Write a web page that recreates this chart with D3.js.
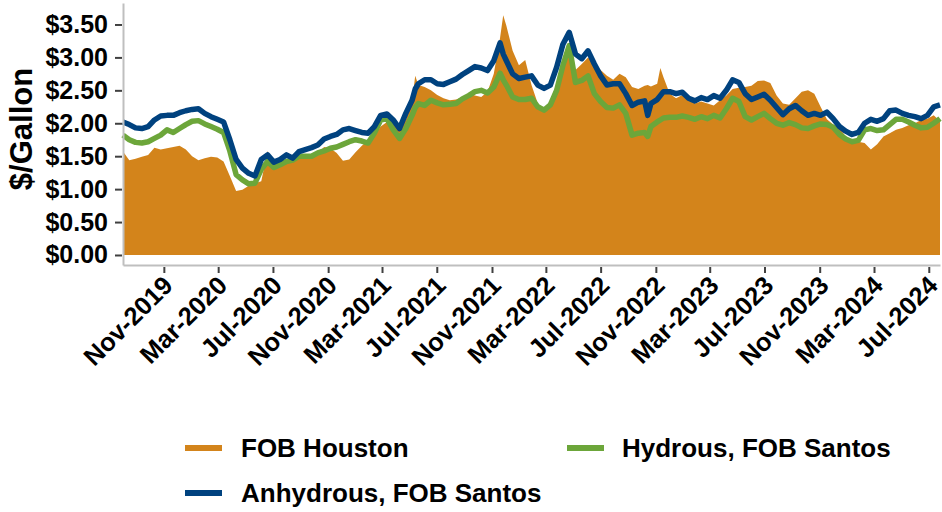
<!DOCTYPE html>
<html><head><meta charset="utf-8">
<script src="https://cdn.jsdelivr.net/npm/d3@7"></script>
<style>
body{margin:0;background:#fff}
svg{display:block}
text{font-family:"Liberation Sans",Arial,sans-serif;font-weight:bold;fill:#000}
</style>
</head><body>
<svg id="chart" width="942" height="512"></svg>
<script>
const dates = [
"2019-08-02","2019-08-16","2019-08-30","2019-09-13","2019-09-27","2019-10-11","2019-10-25","2019-11-08","2019-11-22","2019-12-06","2019-12-20",
"2020-01-03","2020-01-17","2020-01-31","2020-02-14","2020-02-28","2020-03-13","2020-03-27","2020-04-10","2020-04-24","2020-05-08","2020-05-22","2020-06-05","2020-06-19","2020-07-03","2020-07-17","2020-07-31","2020-08-14","2020-08-28","2020-09-11","2020-09-25","2020-10-09","2020-10-23","2020-11-06","2020-11-20","2020-12-04","2020-12-18",
"2021-01-01","2021-01-15","2021-01-29","2021-02-12","2021-02-26","2021-03-12","2021-03-26","2021-04-09","2021-04-23","2021-05-07","2021-05-14","2021-05-21","2021-06-04","2021-06-18","2021-07-02","2021-07-16","2021-07-30","2021-08-13","2021-08-27","2021-09-10","2021-09-24","2021-10-08","2021-10-22","2021-11-05","2021-11-19","2021-11-26","2021-12-03","2021-12-17","2021-12-31",
"2022-01-14","2022-01-28","2022-02-11","2022-02-25","2022-03-11","2022-03-25","2022-04-08","2022-04-22","2022-05-06","2022-05-20","2022-06-03","2022-06-17","2022-07-01","2022-07-15","2022-07-29","2022-08-12","2022-08-26","2022-09-09","2022-09-23","2022-10-07","2022-10-14","2022-10-21","2022-11-04","2022-11-11","2022-11-18","2022-12-02","2022-12-16","2022-12-30",
"2023-01-13","2023-01-27","2023-02-10","2023-02-24","2023-03-10","2023-03-24","2023-04-07","2023-04-21","2023-05-05","2023-05-19","2023-06-02","2023-06-16","2023-06-30","2023-07-14","2023-07-28","2023-08-11","2023-08-25","2023-09-08","2023-09-22","2023-10-06","2023-10-20","2023-11-03","2023-11-17","2023-12-01","2023-12-15","2023-12-29",
"2024-01-12","2024-01-26","2024-02-09","2024-02-23","2024-03-08","2024-03-22","2024-04-05","2024-04-19","2024-05-03","2024-05-17","2024-05-31","2024-06-14","2024-06-28","2024-07-12","2024-07-26"
];
const fobHouston = [
1.57,1.44,1.46,1.49,1.52,1.63,1.60,1.62,1.64,1.66,1.60,
1.50,1.44,1.47,1.49,1.48,1.42,1.20,0.97,0.99,1.05,1.09,1.12,1.58,1.35,1.37,1.40,1.45,1.50,1.49,1.52,1.55,1.64,1.62,1.55,1.43,1.45,
1.56,1.66,1.74,1.82,1.95,2.02,2.00,1.92,2.05,2.35,2.72,2.58,2.55,2.50,2.43,2.38,2.35,2.36,2.40,2.45,2.42,2.40,2.48,2.75,3.30,3.64,3.48,3.10,2.88,
2.96,2.58,2.30,2.20,2.35,2.60,2.80,3.10,2.81,2.90,3.00,2.90,2.81,2.72,2.66,2.75,2.70,2.55,2.52,2.57,2.58,2.56,2.60,2.84,2.70,2.45,2.38,2.43,
2.40,2.30,2.33,2.30,2.27,2.35,2.42,2.52,2.54,2.55,2.57,2.64,2.65,2.61,2.42,2.30,2.28,2.38,2.48,2.50,2.45,2.25,2.06,1.98,1.93,1.80,
1.72,1.72,1.70,1.60,1.68,1.80,1.85,1.90,1.93,1.97,2.00,2.05,2.07,2.12,2.03
];
const hydrousSantos = [
1.82,1.75,1.71,1.70,1.72,1.77,1.82,1.90,1.86,1.92,1.98,
2.03,2.04,1.99,1.95,1.91,1.86,1.58,1.22,1.14,1.08,1.09,1.30,1.42,1.33,1.37,1.42,1.44,1.50,1.50,1.50,1.55,1.58,1.62,1.64,1.68,1.72,
1.75,1.73,1.70,1.85,2.05,2.07,1.90,1.77,1.92,2.12,2.24,2.30,2.27,2.35,2.31,2.28,2.29,2.30,2.37,2.42,2.48,2.50,2.46,2.55,2.76,2.66,2.58,2.40,2.36,
2.36,2.38,2.25,2.20,2.28,2.50,2.88,3.18,2.62,2.65,2.72,2.45,2.33,2.24,2.23,2.28,2.15,1.82,1.85,1.86,1.80,1.95,2.02,2.05,2.08,2.09,2.09,2.11,
2.09,2.06,2.10,2.07,2.12,2.08,2.22,2.38,2.33,2.10,2.05,2.10,2.15,2.07,2.00,1.97,2.01,1.98,1.93,1.92,1.96,1.99,1.98,1.94,1.83,1.76,
1.72,1.74,1.90,1.92,1.89,1.90,1.98,2.06,2.06,2.02,1.97,1.93,1.94,2.00,2.07
];
const anhydrousSantos = [
2.02,1.98,1.93,1.92,1.95,2.05,2.11,2.12,2.12,2.16,2.19,
2.21,2.22,2.15,2.10,2.06,2.02,1.75,1.45,1.32,1.24,1.20,1.45,1.52,1.41,1.45,1.52,1.47,1.57,1.60,1.63,1.67,1.76,1.80,1.83,1.90,1.92,
1.89,1.86,1.85,1.95,2.12,2.14,2.05,1.92,2.15,2.35,2.52,2.60,2.66,2.66,2.60,2.59,2.63,2.67,2.74,2.80,2.86,2.84,2.80,2.95,3.22,3.05,2.95,2.75,2.68,
2.70,2.72,2.58,2.53,2.58,2.85,3.20,3.38,3.05,2.98,3.10,2.90,2.72,2.58,2.60,2.60,2.45,2.27,2.32,2.34,2.12,2.30,2.36,2.42,2.48,2.48,2.45,2.47,
2.38,2.34,2.39,2.36,2.42,2.38,2.50,2.66,2.62,2.45,2.36,2.40,2.44,2.35,2.24,2.13,2.22,2.27,2.19,2.12,2.15,2.12,2.17,2.07,1.95,1.88,
1.83,1.86,2.00,2.06,2.03,2.07,2.19,2.20,2.15,2.12,2.10,2.07,2.12,2.25,2.28
];
const yTicks = [0,0.5,1,1.5,2,2.5,3,3.5];
const xTickDates = ["2019-11-01","2020-03-01","2020-07-01","2020-11-01","2021-03-01","2021-07-01","2021-11-01","2022-03-01","2022-07-01","2022-11-01","2023-03-01","2023-07-01","2023-11-01","2024-03-01","2024-07-01"];
const xTickLabels = ["Nov-2019","Mar-2020","Jul-2020","Nov-2020","Mar-2021","Jul-2021","Nov-2021","Mar-2022","Jul-2022","Nov-2022","Mar-2023","Jul-2023","Nov-2023","Mar-2024","Jul-2024"];
const seriesNames = ["FOB Houston","Hydrous, FOB Santos","Anhydrous, FOB Santos"];
const seriesColors = ["#D3841B","#6CA63A","#00427F"];

const parse = d3.timeParse("%Y-%m-%d");
const D = dates.map(parse);
const svg = d3.select("#chart");

const x = d3.scaleTime().domain([parse("2019-08-02"), parse("2024-07-26")]).range([123, 940]);
const y = d3.scaleLinear().domain([-0.152, 3.826]).range([265, 3]);

// area
const area = d3.area().x((d,i)=>x(D[i])).y0(y(0)).y1(d=>y(d));
svg.append("path").datum(fobHouston).attr("d", area).attr("fill", seriesColors[0]);

const line = d3.line().x((d,i)=>x(D[i])).y(d=>y(d));
svg.append("path").datum(hydrousSantos).attr("d", line).attr("fill","none")
  .attr("stroke", seriesColors[1]).attr("stroke-width", 5.5).attr("stroke-linejoin","round");
svg.append("path").datum(anhydrousSantos).attr("d", line).attr("fill","none")
  .attr("stroke", seriesColors[2]).attr("stroke-width", 5.5).attr("stroke-linejoin","round");

// y axis
const yAxis = svg.append("g").attr("transform","translate(123,0)")
  .call(d3.axisLeft(y).tickValues(yTicks).tickSize(8).tickSizeOuter(0).tickPadding(7).tickFormat(d3.format("$.2f")));
yAxis.select(".domain").attr("stroke","#BFBFBF").attr("stroke-width",2);
yAxis.selectAll(".tick line").attr("stroke","#404040").attr("stroke-width",2).attr("x2",-8).attr("x1",-1);
yAxis.selectAll(".tick text").attr("font-size",25).attr("font-family",'"Liberation Sans",Arial,sans-serif').attr("font-weight","bold").attr("fill","#000");

// x axis
const xAxis = svg.append("g").attr("transform","translate(0,265)")
  .call(d3.axisBottom(x).tickValues(xTickDates.map(parse)).tickSize(8).tickSizeOuter(0)
    .tickFormat((d,i)=>xTickLabels[i]));
xAxis.select(".domain").attr("stroke","#BFBFBF").attr("stroke-width",2);
xAxis.selectAll(".tick line").attr("stroke","#404040").attr("stroke-width",2).attr("y1",2).attr("y2",8);
xAxis.selectAll(".tick text")
  .attr("font-size",25.5).attr("font-family",'"Liberation Sans",Arial,sans-serif').attr("font-weight","bold").attr("fill","#000")
  .attr("text-anchor","end").attr("y",0).attr("dy",0)
  .attr("transform","translate(10,22) rotate(-45)");

// y title
svg.append("text").attr("transform","translate(32,129) rotate(-90)")
  .attr("text-anchor","middle").attr("font-size",31).text("$/Gallon");

// legend
const legendItems = [
  {i:0, sx:185, tx:241, y:448},
  {i:1, sx:567, tx:622, y:448},
  {i:2, sx:185, tx:241, y:493}
];
const lg = svg.append("g");
legendItems.forEach(it=>{
  lg.append("line").attr("x1",it.sx).attr("x2",it.sx+37).attr("y1",it.y).attr("y2",it.y)
    .attr("stroke",seriesColors[it.i]).attr("stroke-width",6);
  lg.append("text").attr("x",it.tx).attr("y",it.y+9).attr("font-size",26).text(seriesNames[it.i]);
});
</script>
</body></html>
